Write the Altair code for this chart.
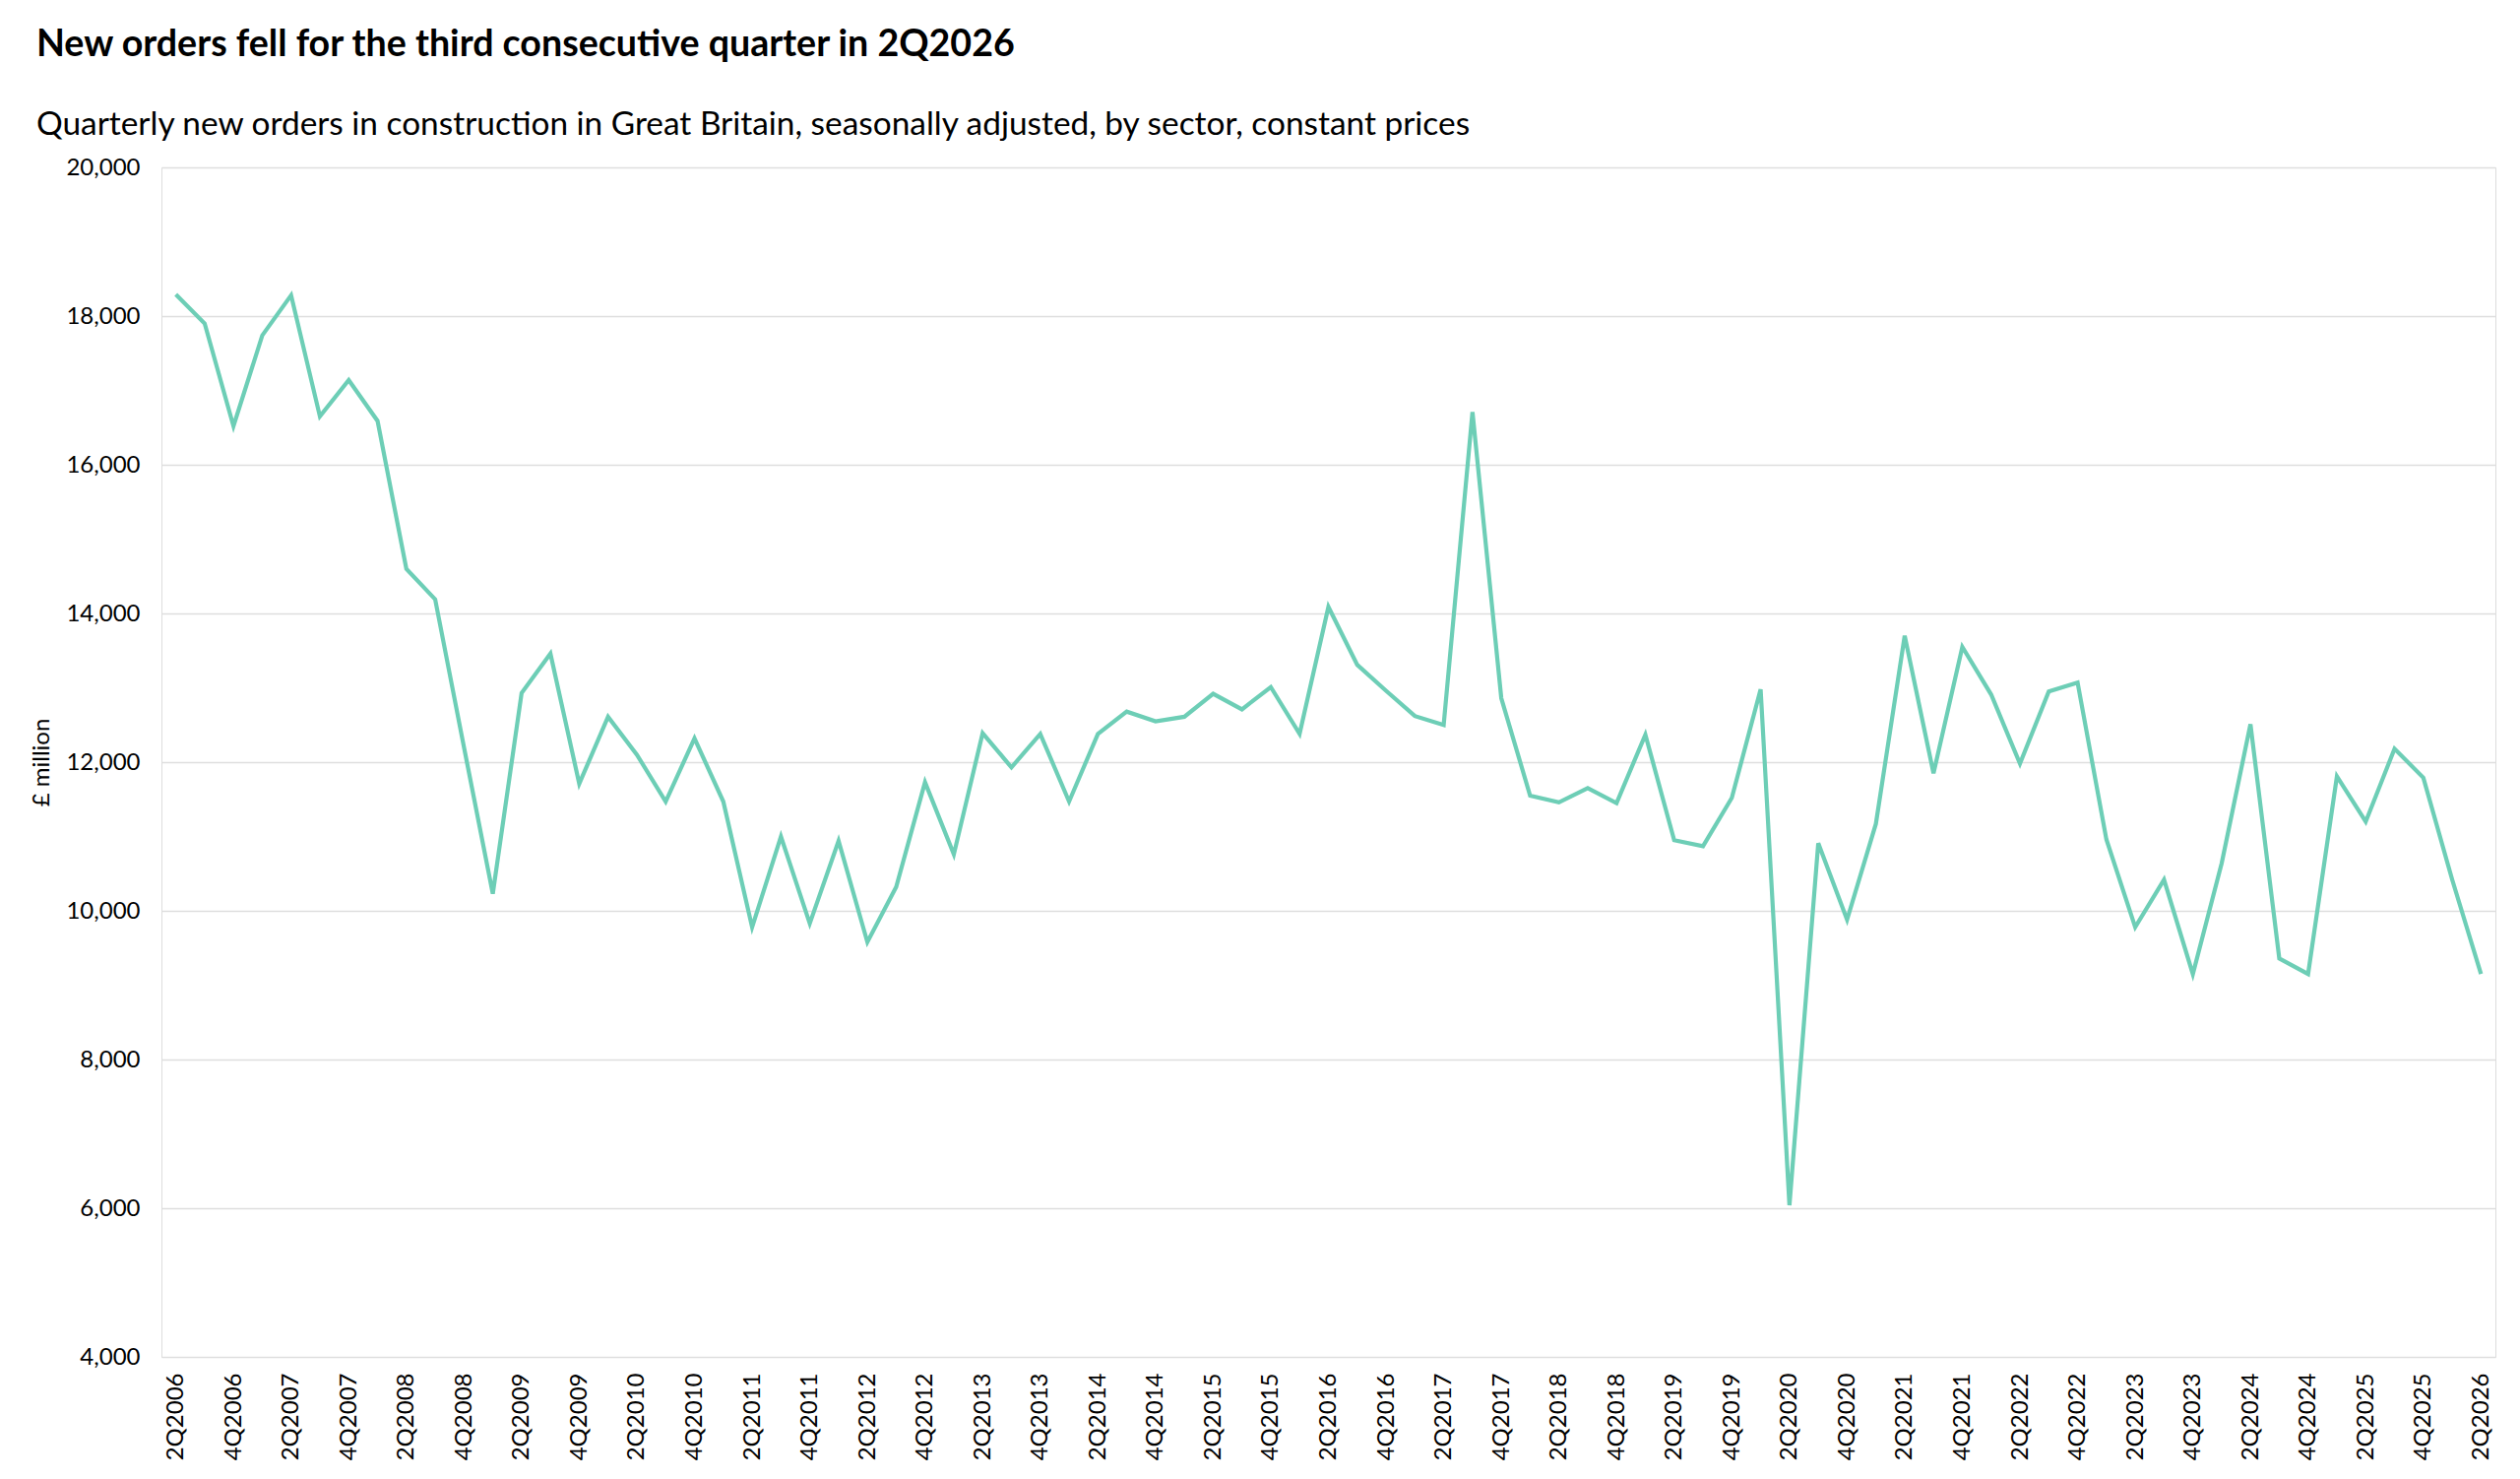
import altair as alt
import pandas as pd

# Quarter labels 2Q2006 .. 2Q2026
quarters = []
for yr in range(2006, 2027):
    for q in (1, 2, 3, 4):
        if (yr == 2006 and q < 2) or (yr == 2026 and q > 2):
            continue
        quarters.append(f"{q}Q{yr}")

# New orders, £ million
orders = [
    18290, 17900, 16520, 17740, 18280, 16650, 17140, 16590, 14600, 14190,
    12200, 10230, 12930, 13460, 11710, 12610, 12100, 11470, 12320, 11470,
    9780, 11000, 9830, 10940, 9580, 10320, 11730, 10760, 12390, 11930,
    12380, 11470, 12380, 12680, 12550, 12610, 12920, 12710, 13010, 12380,
    14090, 13310, 12960, 12620, 12500, 16710, 12860, 11550, 11460, 11650,
    11450, 12370, 10950, 10870, 11520, 12980, 6040, 10910, 9880, 11170,
    13700, 11850, 13550, 12910, 11980, 12950, 13070, 10960, 9780, 10420,
    9150, 10640, 12510, 9360, 9150, 11810, 11200, 12180, 11790, 10420,
    9150,
]

tick_labels = [q for q in quarters if q[0] in ("2", "4")]
y_ticks = [4000, 6000, 8000, 10000, 12000, 14000, 16000, 18000, 20000]

df = pd.DataFrame({"quarter": quarters, "orders": orders})

FONT = "Lato"

chart = (
    alt.Chart(df)
    .mark_line(color="#6DCEB6", strokeWidth=4.2)
    .encode(
        x=alt.X(
            "quarter:N",
            sort=quarters,
            scale=alt.Scale(type="point", padding=0.5),
            axis=alt.Axis(
                title=None,
                values=tick_labels,
                labelAngle=-90,
                labelFontSize=24,
                labelFont=FONT,
                labelColor="#000000",
                labelPadding=16,
                labelOverlap=False,
                ticks=False,
                domain=False,
                grid=False,
            ),
        ),
        y=alt.Y(
            "orders:Q",
            scale=alt.Scale(domain=[4000, 20000], nice=False, zero=False),
            axis=alt.Axis(
                title="£ million",
                titleFont=FONT,
                titleFontSize=24,
                titleFontWeight="normal",
                titleColor="#000000",
                titlePadding=12,
                values=y_ticks,
                format=",.0f",
                labelFontSize=24,
                labelFont=FONT,
                labelColor="#000000",
                labelPadding=22,
                ticks=False,
                domain=False,
                grid=True,
                gridColor="#dedede",
                gridWidth=1.5,
            ),
        ),
    )
    .properties(
        width=2371,
        height=1208,
        autosize=alt.AutoSizeParams(type="none"),
        padding={"left": 156, "top": 162, "right": 17, "bottom": 116},
        title=alt.TitleParams(
            text="New orders fell for the third consecutive quarter in 2Q2026",
            subtitle="Quarterly new orders in construction in Great Britain, seasonally adjusted, by sector, constant prices",
            anchor="start",
            frame="group",
            dx=-127,
            offset=15,
            font=FONT,
            fontSize=37.6,
            fontWeight="bold",
            color="#000000",
            subtitleFont=FONT,
            subtitleFontSize=33.4,
            subtitleColor="#000000",
            subtitlePadding=46,
        ),
    )
    .configure_view(stroke="#dedede", strokeWidth=1.5)
    .configure(background="#ffffff")
)

chart.save("out.html", embed_options={"renderer": "svg", "actions": False})
